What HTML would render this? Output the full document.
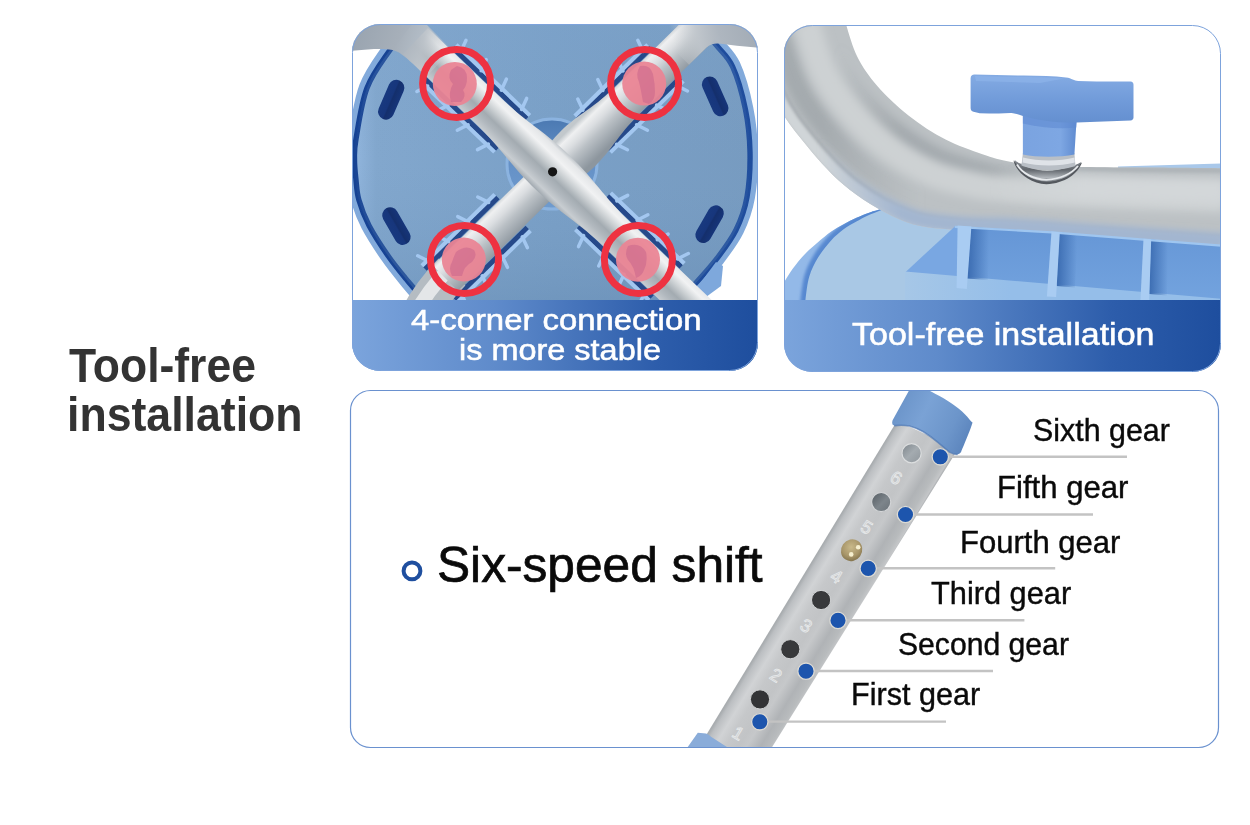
<!DOCTYPE html>
<html lang="en">
<head>
<meta charset="utf-8">
<title>Tool-free installation</title>
<style>
html,body{margin:0;padding:0;background:#fff;}
body{width:1250px;height:825px;position:relative;overflow:hidden;font-family:"Liberation Sans",sans-serif;}
#art{position:absolute;left:0;top:0;width:1250px;height:825px;display:block;}
.tx{position:absolute;white-space:nowrap;transform-origin:0 0;}
.w{color:#fff;-webkit-text-stroke:0.55px #fff;}
.k{color:#0a0a0a;-webkit-text-stroke:0.4px #0a0a0a;}
#t1{left:69.3px;top:342.1px;font-size:48px;line-height:48px;transform:scaleX(0.9261);font-weight:bold;color:#333;}
#t2{left:67.4px;top:391.3px;font-size:48px;line-height:48px;transform:scaleX(0.9300);font-weight:bold;color:#333;}
#c1a{left:411.2px;top:306.4px;font-size:29px;line-height:29px;transform:scaleX(1.1331);}
#c1b{left:459.1px;top:335.8px;font-size:29px;line-height:29px;transform:scaleX(1.1186);}
#c2{left:851.8px;top:317.7px;font-size:32px;line-height:32px;transform:scaleX(1.0628);}
#six{-webkit-text-stroke:0.7px #0a0a0a;left:437.4px;top:540.0px;font-size:49.3px;line-height:49.3px;transform:scaleX(1.0072);}
#g6{left:1032.5px;top:415.0px;font-size:30.5px;line-height:30.5px;transform:scaleX(0.9963);}
#g5{left:996.9px;top:472.1px;font-size:30.5px;line-height:30.5px;transform:scaleX(1.0200);}
#g4{left:960.0px;top:526.9px;font-size:30.5px;line-height:30.5px;transform:scaleX(1.0169);}
#g3{left:931.3px;top:577.5px;font-size:30.5px;line-height:30.5px;transform:scaleX(1.0080);}
#g2{left:898.0px;top:628.6px;font-size:30.5px;line-height:30.5px;transform:scaleX(0.9882);}
#g1{left:851.0px;top:679.2px;font-size:30.5px;line-height:30.5px;transform:scaleX(1.0024);}
</style>
</head>
<body>
<svg id="art" viewBox="0 0 1250 825" width="1250" height="825">
<defs>
  <clipPath id="cp1"><rect x="352" y="24" width="406" height="347" rx="28" ry="28"/></clipPath>
  <clipPath id="cp2"><rect x="784" y="25" width="437" height="347" rx="28" ry="28"/></clipPath>
  <clipPath id="cp3"><rect x="350.5" y="390.5" width="868" height="357" rx="20" ry="20"/></clipPath>
  <linearGradient id="capg" x1="0" y1="0" x2="1" y2="0">
    <stop offset="0" stop-color="#7ba4dc"/><stop offset="0.35" stop-color="#5f8bcb"/><stop offset="0.75" stop-color="#2d5dab"/><stop offset="1" stop-color="#1e4e9e"/>
  </linearGradient>
  <linearGradient id="tubeg" gradientUnits="userSpaceOnUse" x1="801.5" y1="580" x2="857.6" y2="614">
    <stop offset="0" stop-color="#a9adb0"/><stop offset="0.05" stop-color="#bcbfc2"/><stop offset="0.18" stop-color="#d1d3d5"/>
    <stop offset="0.32" stop-color="#c6c8ca"/><stop offset="0.5" stop-color="#c2c4c6"/><stop offset="0.6" stop-color="#c6c8ca"/>
    <stop offset="0.78" stop-color="#b0b3b6"/><stop offset="0.9" stop-color="#b8bbbd"/><stop offset="0.97" stop-color="#c4c6c8"/><stop offset="1" stop-color="#a8abae"/>
  </linearGradient>
  <linearGradient id="bcapg" gradientUnits="userSpaceOnUse" x1="897" y1="405" x2="968" y2="440">
    <stop offset="0" stop-color="#6b94c9"/><stop offset="0.35" stop-color="#7aa2d5"/><stop offset="0.75" stop-color="#6c95ca"/><stop offset="1" stop-color="#5c85bd"/>
  </linearGradient>
  <linearGradient id="hole6" x1="0" y1="0" x2="1" y2="1"><stop offset="0" stop-color="#7d858b"/><stop offset="0.5" stop-color="#a4abb0"/><stop offset="1" stop-color="#8f969c"/></linearGradient>
  <linearGradient id="hole5" x1="0" y1="0" x2="1" y2="1"><stop offset="0" stop-color="#555c62"/><stop offset="0.55" stop-color="#7d858b"/><stop offset="1" stop-color="#6a7278"/></linearGradient>
  <radialGradient id="brass" cx="0.4" cy="0.4" r="0.7">
    <stop offset="0" stop-color="#c9b98a"/><stop offset="0.6" stop-color="#a8966a"/><stop offset="1" stop-color="#7c6d47"/>
  </radialGradient>
  <!-- PANEL2 DEFS -->
<clipPath id="seatclip"><path d="M778.0,292.0 C779.1,290.2 782.0,285.3 784.5,281.4 C787.0,277.5 789.2,273.4 792.7,268.7 C796.2,264.0 801.2,257.9 805.5,253.4 C809.8,249.0 814.0,245.6 818.2,242.0 C822.4,238.4 826.7,234.8 830.9,231.8 C835.1,228.8 839.4,226.5 843.6,224.2 C847.9,221.9 852.1,219.7 856.4,217.8 C860.6,215.9 865.3,214.1 869.1,212.7 C872.9,211.3 872.5,211.6 879.3,209.5 C886.1,207.4 904.9,201.6 910.0,200.0 L1225,200 L1225,305 L778,305 Z"/></clipPath>
  <clipPath id="tubeclip"><path d="M845.3,22.0 C847.3,27.8 851.9,46.1 857.3,56.8 C862.7,67.5 868.9,76.4 877.5,86.2 C886.1,96.0 897.4,106.8 908.8,115.7 C920.1,124.6 933.3,133.2 945.6,139.6 C957.9,146.0 971.7,150.6 982.4,154.3 C993.1,158.0 999.6,159.8 1010.0,161.7 C1020.4,163.6 1033.0,164.6 1045.0,165.5 C1057.0,166.4 1064.5,166.6 1082.0,166.9 C1099.5,167.2 1126.2,167.4 1150.0,167.6 C1173.8,167.8 1212.5,168.2 1225.0,168.3 L1225.0,247.0 C1212.5,246.1 1174.5,243.3 1150.0,241.5 C1125.5,239.7 1096.3,237.4 1078.0,236.0 C1059.7,234.6 1053.3,233.8 1040.0,233.0 C1026.7,232.2 1011.8,231.5 998.0,231.0 C984.2,230.5 972.3,231.5 957.0,230.0 C941.7,228.5 923.8,228.7 906.0,222.0 C888.2,215.3 866.5,202.7 850.0,190.0 C833.5,177.3 819.8,161.7 807.0,146.0 C794.2,130.3 782.8,116.7 773.0,96.0 C763.2,75.3 752.2,34.3 748.0,22.0 Z"/></clipPath>
  <filter id="b3" filterUnits="userSpaceOnUse" x="300" y="0" width="950" height="420"><feGaussianBlur stdDeviation="3"/></filter>
  <filter id="b5" filterUnits="userSpaceOnUse" x="300" y="0" width="950" height="420"><feGaussianBlur stdDeviation="5"/></filter>
  <filter id="b2" filterUnits="userSpaceOnUse" x="300" y="0" width="950" height="420"><feGaussianBlur stdDeviation="1.6"/></filter>
  <linearGradient id="fadeDark" gradientUnits="userSpaceOnUse" x1="840" y1="0" x2="1070" y2="0"><stop offset="0" stop-color="#a3a9ad" stop-opacity="0"/><stop offset="0.26" stop-color="#a3a9ad"/><stop offset="0.62" stop-color="#a3a9ad"/><stop offset="1" stop-color="#a3a9ad" stop-opacity="0"/></linearGradient>
  <linearGradient id="fadeDarkA" gradientUnits="userSpaceOnUse" x1="820" y1="0" x2="920" y2="0"><stop offset="0" stop-color="#a4aaae"/><stop offset="1" stop-color="#a4aaae" stop-opacity="0"/></linearGradient>
  <linearGradient id="fadeLight" gradientUnits="userSpaceOnUse" x1="990" y1="0" x2="1080" y2="0"><stop offset="0" stop-color="#d3d7d9" stop-opacity="0"/><stop offset="1" stop-color="#d3d7d9"/></linearGradient>
  <linearGradient id="fadeEdge" gradientUnits="userSpaceOnUse" x1="1000" y1="0" x2="1090" y2="0"><stop offset="0" stop-color="#aeb4b8" stop-opacity="0"/><stop offset="1" stop-color="#aeb4b8"/></linearGradient>
  <linearGradient id="fadeBlue" gradientUnits="userSpaceOnUse" x1="820" y1="0" x2="900" y2="0"><stop offset="0" stop-color="#a3b6d0" stop-opacity="0"/><stop offset="1" stop-color="#a3b6d0"/></linearGradient>
  <linearGradient id="rimg" gradientUnits="userSpaceOnUse" x1="790" y1="250" x2="812" y2="268"><stop offset="0" stop-color="#9cc0ea"/><stop offset="0.6" stop-color="#7fabe0"/><stop offset="1" stop-color="#5d8fd3"/></linearGradient>
  <linearGradient id="washg" x1="0" y1="0" x2="0" y2="1"><stop offset="0" stop-color="#8a9097"/><stop offset="0.45" stop-color="#62676d"/><stop offset="0.8" stop-color="#aeb3b8"/><stop offset="1" stop-color="#70757b"/></linearGradient>
  <linearGradient id="ribsh1" gradientUnits="userSpaceOnUse" x1="969" y1="0" x2="989" y2="0"><stop offset="0" stop-color="#3e6fb4"/><stop offset="1" stop-color="#3e6fb4" stop-opacity="0"/></linearGradient>
  <linearGradient id="ribsh2" gradientUnits="userSpaceOnUse" x1="1058" y1="0" x2="1077" y2="0"><stop offset="0" stop-color="#3e6fb4"/><stop offset="1" stop-color="#3e6fb4" stop-opacity="0"/></linearGradient>
  <linearGradient id="ribsh3" gradientUnits="userSpaceOnUse" x1="1150" y1="0" x2="1168" y2="0"><stop offset="0" stop-color="#3e6fb4"/><stop offset="1" stop-color="#3e6fb4" stop-opacity="0"/></linearGradient>
  <linearGradient id="floorg" gradientUnits="userSpaceOnUse" x1="905" y1="0" x2="1010" y2="0"><stop offset="0" stop-color="#a6c7e7"/><stop offset="1" stop-color="#95bee9"/></linearGradient>
  <linearGradient id="knobg" x1="0" y1="0" x2="0" y2="1"><stop offset="0" stop-color="#84abe3"/><stop offset="0.5" stop-color="#729cda"/><stop offset="1" stop-color="#648fd0"/></linearGradient>
  <linearGradient id="stemg" x1="0" y1="0" x2="1" y2="0"><stop offset="0" stop-color="#7aa3e0"/><stop offset="0.7" stop-color="#7ea7e3"/><stop offset="1" stop-color="#5f8bd0"/></linearGradient>
  <linearGradient id="wallg" x1="0" y1="0" x2="0" y2="1"><stop offset="0" stop-color="#6596d6"/><stop offset="1" stop-color="#74a4df"/></linearGradient>
<!-- /PANEL2 DEFS -->
  <!-- PANEL1 DEFS -->
<linearGradient id="faceg" gradientUnits="userSpaceOnUse" x1="352" y1="0" x2="758" y2="0">
    <stop offset="0" stop-color="#93b7df"/><stop offset="0.06" stop-color="#82a7cd"/><stop offset="0.5" stop-color="#7aa0c7"/><stop offset="1" stop-color="#779bc0"/>
  </linearGradient>
  <linearGradient id="ringg" gradientUnits="userSpaceOnUse" x1="352" y1="0" x2="758" y2="0">
    <stop offset="0" stop-color="#164293"/><stop offset="0.5" stop-color="#1b4898"/><stop offset="1" stop-color="#1f4d9d"/>
  </linearGradient>
  <linearGradient id="t1g" gradientUnits="userSpaceOnUse" x1="0" y1="-24" x2="0" y2="24">
    <stop offset="0" stop-color="#bfc5ca"/><stop offset="0.08" stop-color="#e4e6e8"/><stop offset="0.24" stop-color="#f1f2f3"/><stop offset="0.42" stop-color="#c9ced1"/><stop offset="0.58" stop-color="#a3abb1"/><stop offset="0.72" stop-color="#b1b8be"/><stop offset="0.88" stop-color="#c8cdd1"/><stop offset="1" stop-color="#a1a9b0"/>
  </linearGradient>
  <linearGradient id="t1ge" gradientUnits="userSpaceOnUse" x1="0" y1="-18.5" x2="0" y2="18.5">
    <stop offset="0" stop-color="#bfc5ca"/><stop offset="0.08" stop-color="#e4e6e8"/><stop offset="0.24" stop-color="#f1f2f3"/><stop offset="0.42" stop-color="#c9ced1"/><stop offset="0.58" stop-color="#a3abb1"/><stop offset="0.72" stop-color="#b1b8be"/><stop offset="0.88" stop-color="#c8cdd1"/><stop offset="1" stop-color="#a1a9b0"/>
  </linearGradient>
  <linearGradient id="t2g" gradientUnits="userSpaceOnUse" x1="0" y1="-20" x2="0" y2="20">
    <stop offset="0" stop-color="#c2c8cc"/><stop offset="0.14" stop-color="#eff0f1"/><stop offset="0.35" stop-color="#dadde0"/><stop offset="0.58" stop-color="#bac0c5"/><stop offset="0.82" stop-color="#a0a8af"/><stop offset="1" stop-color="#8d969e"/>
  </linearGradient>
  <linearGradient id="bendg" gradientUnits="userSpaceOnUse" x1="352" y1="30" x2="448" y2="62">
    <stop offset="0" stop-color="#98a3af"/><stop offset="0.45" stop-color="#a6afb9"/><stop offset="0.7" stop-color="#b9c0c7" stop-opacity="0.9"/><stop offset="1" stop-color="#cfd3d7" stop-opacity="0"/>
  </linearGradient>
  <linearGradient id="bendg2" gradientUnits="userSpaceOnUse" x1="758" y1="30" x2="676" y2="52">
    <stop offset="0" stop-color="#a2abb5"/><stop offset="0.45" stop-color="#aeb6bf"/><stop offset="0.7" stop-color="#c0c6cc" stop-opacity="0.9"/><stop offset="1" stop-color="#d3d7da" stop-opacity="0"/>
  </linearGradient>
  <linearGradient id="facev" gradientUnits="userSpaceOnUse" x1="0" y1="24" x2="0" y2="300"><stop offset="0" stop-color="#7fa6ce" stop-opacity="0.25"/><stop offset="0.5" stop-color="#7aa0c7" stop-opacity="0"/><stop offset="1" stop-color="#5f85ad" stop-opacity="0.35"/></linearGradient>
  <linearGradient id="hubg" x1="0" y1="0" x2="0" y2="1"><stop offset="0" stop-color="#4b79b2"/><stop offset="0.45" stop-color="#6490c6"/><stop offset="1" stop-color="#6f9bce"/></linearGradient>
  <linearGradient id="slotg" x1="0" y1="0" x2="1" y2="0"><stop offset="0" stop-color="#18397f"/><stop offset="0.45" stop-color="#17367c"/><stop offset="0.55" stop-color="#142f6c"/><stop offset="1" stop-color="#16357a"/></linearGradient>
<!-- /PANEL1 DEFS -->
</defs>

<!-- ================= PANEL 1 ================= -->
<g clip-path="url(#cp1)">
  <rect x="352" y="24" width="406" height="347" fill="#86add7"/>
  <!-- PANEL1 ART -->
<rect x="352" y="24" width="406" height="280" fill="#ffffff"/>
  <!-- disc -->
  <path d="M500.0,-30.0 C492.0,-26.7 465.7,-17.3 452.0,-10.0 C438.3,-2.7 428.3,4.0 418.0,14.0 C407.7,24.0 398.5,37.7 390.0,50.0 C381.5,62.3 372.7,73.2 367.0,88.0 C361.3,102.8 358.1,127.0 356.0,139.0 C353.9,151.0 354.5,153.2 354.5,160.0 C354.5,166.8 355.3,173.3 356.0,180.0 C356.7,186.7 356.7,192.4 358.9,200.0 C361.1,207.6 364.1,216.2 369.0,225.5 C373.9,234.8 382.0,247.1 388.2,256.0 C394.4,264.9 400.4,272.1 406.0,278.9 C411.6,285.7 414.7,289.8 422.0,297.0 C429.3,304.2 438.7,314.5 450.0,322.0 C461.3,329.5 483.3,338.7 490.0,342.0 L640.0,335.0 C645.0,331.2 660.8,320.5 670.0,312.0 C679.2,303.5 687.2,292.9 695.0,284.0 C702.8,275.1 710.2,267.4 717.0,258.4 C723.8,249.4 731.0,240.2 736.0,230.0 C741.0,219.8 744.7,210.0 747.0,197.0 C749.3,184.0 750.3,166.6 750.0,152.0 C749.7,137.4 748.3,123.5 745.4,109.3 C742.5,95.1 737.6,77.4 732.6,66.6 C727.6,55.8 722.7,53.1 715.6,44.3 C708.5,35.5 700.9,23.4 690.0,14.0 C679.1,4.6 665.0,-4.7 650.0,-12.0 C635.0,-19.3 608.3,-27.0 600.0,-30.0 Z" fill="#82aadb" stroke="#82aadb" stroke-width="4" transform="translate(553,165) scale(1.03,1.035) translate(-553,-165)"/>
  <path d="M500.0,-30.0 C492.0,-26.7 465.7,-17.3 452.0,-10.0 C438.3,-2.7 428.3,4.0 418.0,14.0 C407.7,24.0 398.5,37.7 390.0,50.0 C381.5,62.3 372.7,73.2 367.0,88.0 C361.3,102.8 358.1,127.0 356.0,139.0 C353.9,151.0 354.5,153.2 354.5,160.0 C354.5,166.8 355.3,173.3 356.0,180.0 C356.7,186.7 356.7,192.4 358.9,200.0 C361.1,207.6 364.1,216.2 369.0,225.5 C373.9,234.8 382.0,247.1 388.2,256.0 C394.4,264.9 400.4,272.1 406.0,278.9 C411.6,285.7 414.7,289.8 422.0,297.0 C429.3,304.2 438.7,314.5 450.0,322.0 C461.3,329.5 483.3,338.7 490.0,342.0 L640.0,335.0 C645.0,331.2 660.8,320.5 670.0,312.0 C679.2,303.5 687.2,292.9 695.0,284.0 C702.8,275.1 710.2,267.4 717.0,258.4 C723.8,249.4 731.0,240.2 736.0,230.0 C741.0,219.8 744.7,210.0 747.0,197.0 C749.3,184.0 750.3,166.6 750.0,152.0 C749.7,137.4 748.3,123.5 745.4,109.3 C742.5,95.1 737.6,77.4 732.6,66.6 C727.6,55.8 722.7,53.1 715.6,44.3 C708.5,35.5 700.9,23.4 690.0,14.0 C679.1,4.6 665.0,-4.7 650.0,-12.0 C635.0,-19.3 608.3,-27.0 600.0,-30.0 Z" fill="url(#faceg)" stroke="url(#ringg)" stroke-width="5.4"/>
  <path d="M500.0,-30.0 C492.0,-26.7 465.7,-17.3 452.0,-10.0 C438.3,-2.7 428.3,4.0 418.0,14.0 C407.7,24.0 398.5,37.7 390.0,50.0 C381.5,62.3 372.7,73.2 367.0,88.0 C361.3,102.8 358.1,127.0 356.0,139.0 C353.9,151.0 354.5,153.2 354.5,160.0 C354.5,166.8 355.3,173.3 356.0,180.0 C356.7,186.7 356.7,192.4 358.9,200.0 C361.1,207.6 364.1,216.2 369.0,225.5 C373.9,234.8 382.0,247.1 388.2,256.0 C394.4,264.9 400.4,272.1 406.0,278.9 C411.6,285.7 414.7,289.8 422.0,297.0 C429.3,304.2 438.7,314.5 450.0,322.0 C461.3,329.5 483.3,338.7 490.0,342.0 L640.0,335.0 C645.0,331.2 660.8,320.5 670.0,312.0 C679.2,303.5 687.2,292.9 695.0,284.0 C702.8,275.1 710.2,267.4 717.0,258.4 C723.8,249.4 731.0,240.2 736.0,230.0 C741.0,219.8 744.7,210.0 747.0,197.0 C749.3,184.0 750.3,166.6 750.0,152.0 C749.7,137.4 748.3,123.5 745.4,109.3 C742.5,95.1 737.6,77.4 732.6,66.6 C727.6,55.8 722.7,53.1 715.6,44.3 C708.5,35.5 700.9,23.4 690.0,14.0 C679.1,4.6 665.0,-4.7 650.0,-12.0 C635.0,-19.3 608.3,-27.0 600.0,-30.0 Z" fill="url(#facev)"/>
  <!-- bottom-right foot -->
  <path d="M716,262 L723,266 L721,286 L706,297 L690,297 Z" fill="#7ea8dc"/>
  <!-- hub -->
  <circle cx="552" cy="164" r="45" fill="url(#hubg)" stroke="#8bb3e0" stroke-width="3"/>
  <!-- slots -->
  <g fill="url(#slotg)">
    <rect x="-8" y="-21" width="16" height="42" rx="8" transform="translate(391.2,99.7) rotate(23.3)"/>
    <rect x="-8" y="-21" width="16" height="42" rx="8" transform="translate(715.2,96.3) rotate(-24)"/>
    <rect x="-8" y="-20.5" width="16" height="41" rx="8" transform="translate(396.4,226.1) rotate(-30)"/>
    <rect x="-8" y="-20.5" width="16" height="41" rx="8" transform="translate(709.6,224.2) rotate(30)"/>
  </g>
  <!-- ribs -->
  <g transform="translate(552.6,172.5) rotate(43.8)">
      <line x1="56" y1="21" x2="158" y2="21" stroke="#26498a" stroke-width="5"/>
      <line x1="56" y1="-21" x2="158" y2="-21" stroke="#26498a" stroke-width="5"/>
      <line x1="-56" y1="21" x2="-158" y2="21" stroke="#26498a" stroke-width="5"/>
      <line x1="-56" y1="-21" x2="-158" y2="-21" stroke="#26498a" stroke-width="5"/>
      <line x1="56" y1="25.5" x2="158" y2="25.5" stroke="#a3c7f0" stroke-width="4"/>
      <line x1="56" y1="-25.5" x2="158" y2="-25.5" stroke="#a3c7f0" stroke-width="4"/>
      <line x1="-56" y1="25.5" x2="-158" y2="25.5" stroke="#a3c7f0" stroke-width="4"/>
      <line x1="-56" y1="-25.5" x2="-158" y2="-25.5" stroke="#a3c7f0" stroke-width="4"/>
      <g stroke="#a3c7f0" stroke-width="3.5" stroke-linecap="round"><line x1="66" y1="24" x2="70" y2="35.5"/>
      <line x1="94" y1="24" x2="98" y2="35.5"/>
      <line x1="122" y1="24" x2="126" y2="35.5"/>
      <line x1="150" y1="24" x2="154" y2="35.5"/>
      <line x1="66" y1="-24" x2="70" y2="-35.5"/>
      <line x1="94" y1="-24" x2="98" y2="-35.5"/>
      <line x1="122" y1="-24" x2="126" y2="-35.5"/>
      <line x1="150" y1="-24" x2="154" y2="-35.5"/>
      <line x1="-66" y1="24" x2="-70" y2="35.5"/>
      <line x1="-94" y1="24" x2="-98" y2="35.5"/>
      <line x1="-122" y1="24" x2="-126" y2="35.5"/>
      <line x1="-150" y1="24" x2="-154" y2="35.5"/>
      <line x1="-66" y1="-24" x2="-70" y2="-35.5"/>
      <line x1="-94" y1="-24" x2="-98" y2="-35.5"/>
      <line x1="-122" y1="-24" x2="-126" y2="-35.5"/>
      <line x1="-150" y1="-24" x2="-154" y2="-35.5"/></g>
  </g>
  <g transform="translate(552.6,173.4) rotate(-44.4)">
      <line x1="56" y1="21" x2="158" y2="21" stroke="#26498a" stroke-width="5"/>
      <line x1="56" y1="-21" x2="158" y2="-21" stroke="#26498a" stroke-width="5"/>
      <line x1="-56" y1="21" x2="-158" y2="21" stroke="#26498a" stroke-width="5"/>
      <line x1="-56" y1="-21" x2="-158" y2="-21" stroke="#26498a" stroke-width="5"/>
      <line x1="56" y1="25.5" x2="158" y2="25.5" stroke="#a3c7f0" stroke-width="4"/>
      <line x1="56" y1="-25.5" x2="158" y2="-25.5" stroke="#a3c7f0" stroke-width="4"/>
      <line x1="-56" y1="25.5" x2="-158" y2="25.5" stroke="#a3c7f0" stroke-width="4"/>
      <line x1="-56" y1="-25.5" x2="-158" y2="-25.5" stroke="#a3c7f0" stroke-width="4"/>
      <g stroke="#a3c7f0" stroke-width="3.5" stroke-linecap="round"><line x1="66" y1="24" x2="70" y2="35.5"/>
      <line x1="94" y1="24" x2="98" y2="35.5"/>
      <line x1="122" y1="24" x2="126" y2="35.5"/>
      <line x1="150" y1="24" x2="154" y2="35.5"/>
      <line x1="66" y1="-24" x2="70" y2="-35.5"/>
      <line x1="94" y1="-24" x2="98" y2="-35.5"/>
      <line x1="122" y1="-24" x2="126" y2="-35.5"/>
      <line x1="150" y1="-24" x2="154" y2="-35.5"/>
      <line x1="-66" y1="24" x2="-70" y2="35.5"/>
      <line x1="-94" y1="24" x2="-98" y2="35.5"/>
      <line x1="-122" y1="24" x2="-126" y2="35.5"/>
      <line x1="-150" y1="24" x2="-154" y2="35.5"/>
      <line x1="-66" y1="-24" x2="-70" y2="-35.5"/>
      <line x1="-94" y1="-24" x2="-98" y2="-35.5"/>
      <line x1="-122" y1="-24" x2="-126" y2="-35.5"/>
      <line x1="-150" y1="-24" x2="-154" y2="-35.5"/></g>
  </g>
  <!-- tube 2 (under) -->
  <!-- tr bend drawn after tube2 -->
  <path d="M452,272 Q432,292 418,318" fill="none" stroke="#b5bcc2" stroke-width="38"/>
  <path d="M448,270 Q428,290 414,316" fill="none" stroke="#e4e6e8" stroke-width="14"/>
  <g transform="translate(552.6,173.4) rotate(-44.4)">
    <path d="M-150,-17.8 L-20,-17.8 C5,-17.8 12,-24.5 35,-24.5 C60,-24.5 75,-17.8 110,-17.8 L245,-17.8 L245,17.8 L110,17.8 C75,17.8 60,24.5 35,24.5 C12,24.5 5,17.8 -20,17.8 L-150,17.8 Z" fill="url(#t2g)"/>
  </g>
  <path d="M676,10 L770,10 L770,49 L756.3,47.6 L736.9,45.7 L719,43.6 Q711.5,43 706.5,47.6 L689,64.7 L660,36 Z" fill="url(#bendg2)"/>
  <!-- tube 1 (over) -->
  <!-- bend drawn after tube1 -->
  <g transform="translate(552.6,172.5) rotate(43.8)">
    <path d="M-190,-18 L-92,-18 C-50.6,-18 -36.800000000000004,-24 0,-24 C36.800000000000004,-24 50.6,-18 92,-18 L240,-18 L240,18 L92,18 C50.6,18 36.800000000000004,24 0,24 C-36.800000000000004,24 -50.6,18 -92,18 L-190,18 Z" fill="url(#t1g)"/>
  </g>
  <path d="M340,10 L412,10 L452,50 L426,77 C414,64 405,56.5 399,52.5 C394,49.2 385,48.6 374,49.1 L340,51.5 Z" fill="url(#bendg)"/>
  <circle cx="552.6" cy="171.8" r="4.6" fill="#151515"/>
  <!-- highlight circles -->
  <g fill="#ea8595" fill-opacity="0.95">
    <circle cx="454.8" cy="83.9" r="22"/>
    <circle cx="644.2" cy="83.6" r="22"/>
    <circle cx="463.8" cy="259.5" r="22"/>
    <circle cx="638" cy="259.7" r="22"/>
  </g>
  <g fill="#c9668c" fill-opacity="0.55">
    <path d="M457,66 q10,2 10,12 q0,8 -4,12 q4,6 -2,12 l-10,0 q-3,-10 2,-18 q-6,-6 -2,-14 z"/>
    <path d="M640,66 q10,-2 13,8 q2,10 2,18 q0,8 -6,12 l-6,-2 q-2,-12 -4,-20 q-4,-8 1,-16 z"/>
    <path d="M456,252 q10,-8 18,-2 q4,6 -2,12 q-8,4 -10,14 l-10,0 q-4,-8 0,-14 q2,-6 4,-10 z"/>
    <path d="M628,246 q12,-4 18,6 q2,10 -2,18 q-2,6 -8,8 q-2,-12 -8,-18 q-4,-6 0,-14 z"/>
  </g>
  <g fill="none" stroke="#ee3241" stroke-width="7">
    <circle cx="456.6" cy="83.5" r="34"/>
    <circle cx="644.6" cy="83.4" r="34"/>
    <circle cx="464.5" cy="259.5" r="34"/>
    <circle cx="638.4" cy="259.5" r="34"/>
  </g>
<!-- /PANEL1 ART -->
  <rect x="352" y="300" width="406" height="72" fill="url(#capg)"/>
</g>

<rect id="b1" x="352.5" y="24.5" width="405" height="346" rx="28" ry="28" fill="none" stroke="#7da3dc" stroke-width="1"/>

<!-- ================= PANEL 2 ================= -->
<g clip-path="url(#cp2)">
  <rect x="784" y="25" width="437" height="347" fill="#ffffff"/>
  <!-- PANEL2 ART -->
<!-- seat -->
  <path d="M778.0,292.0 C779.1,290.2 782.0,285.3 784.5,281.4 C787.0,277.5 789.2,273.4 792.7,268.7 C796.2,264.0 801.2,257.9 805.5,253.4 C809.8,249.0 814.0,245.6 818.2,242.0 C822.4,238.4 826.7,234.8 830.9,231.8 C835.1,228.8 839.4,226.5 843.6,224.2 C847.9,221.9 852.1,219.7 856.4,217.8 C860.6,215.9 865.3,214.1 869.1,212.7 C872.9,211.3 872.5,211.6 879.3,209.5 C886.1,207.4 904.9,201.6 910.0,200.0 L1225,200 L1225,305 L778,305 Z" fill="#93b9e8"/>
  <g clip-path="url(#seatclip)"><path d="M805.0,310.0 C805.1,308.2 804.8,304.9 805.5,299.3 C806.2,293.7 807.2,283.4 809.3,276.4 C811.4,269.4 814.6,263.2 818.2,257.3 C821.8,251.4 826.7,245.4 830.9,240.7 C835.1,236.0 839.4,232.5 843.6,229.3 C847.9,226.1 852.2,224.0 856.4,221.6 C860.6,219.2 863.4,217.4 869.0,215.0 C874.6,212.6 886.5,208.3 890.0,207.0" fill="none" stroke="#5688d0" stroke-width="10" filter="url(#b2)"/></g>
  <path d="M805.0,310.0 C805.1,308.2 804.8,304.9 805.5,299.3 C806.2,293.7 807.2,283.4 809.3,276.4 C811.4,269.4 814.6,263.2 818.2,257.3 C821.8,251.4 826.7,245.4 830.9,240.7 C835.1,236.0 839.4,232.5 843.6,229.3 C847.9,226.1 852.2,224.0 856.4,221.6 C860.6,219.2 863.4,217.4 869.0,215.0 C874.6,212.6 886.5,208.3 890.0,207.0 L1225,207 L1225,310 Z" fill="#a9c8e5"/>
  <!-- strip behind tube at right -->
  <polygon points="1118,166.4 1225,163.5 1225,170 1118,168" fill="#a9c8ea"/>
  <!-- tube -->
  <path d="M845.3,22.0 C847.3,27.8 851.9,46.1 857.3,56.8 C862.7,67.5 868.9,76.4 877.5,86.2 C886.1,96.0 897.4,106.8 908.8,115.7 C920.1,124.6 933.3,133.2 945.6,139.6 C957.9,146.0 971.7,150.6 982.4,154.3 C993.1,158.0 999.6,159.8 1010.0,161.7 C1020.4,163.6 1033.0,164.6 1045.0,165.5 C1057.0,166.4 1064.5,166.6 1082.0,166.9 C1099.5,167.2 1126.2,167.4 1150.0,167.6 C1173.8,167.8 1212.5,168.2 1225.0,168.3 L1225.0,247.0 C1212.5,246.1 1174.5,243.3 1150.0,241.5 C1125.5,239.7 1096.3,237.4 1078.0,236.0 C1059.7,234.6 1053.3,233.8 1040.0,233.0 C1026.7,232.2 1011.8,231.5 998.0,231.0 C984.2,230.5 972.3,231.5 957.0,230.0 C941.7,228.5 923.8,228.7 906.0,222.0 C888.2,215.3 866.5,202.7 850.0,190.0 C833.5,177.3 819.8,161.7 807.0,146.0 C794.2,130.3 782.8,116.7 773.0,96.0 C763.2,75.3 752.2,34.3 748.0,22.0 Z" fill="#bcc1c4"/>
  <g clip-path="url(#tubeclip)" fill="none">
    <path d="M823.9,22.0 C826.4,29.2 832.4,52.5 838.8,65.4 C845.1,78.3 852.5,88.3 862.0,99.4 C871.5,110.5 883.4,122.3 895.9,132.0 C908.3,141.8 923.4,151.2 936.9,157.7 C950.4,164.2 965.1,167.8 976.8,171.0 C988.6,174.2 996.2,175.4 1007.4,176.9 C1018.5,178.5 1031.6,179.5 1043.9,180.3 C1056.2,181.2 1063.4,181.5 1081.1,182.1 C1098.8,182.7 1126.0,183.3 1150.0,183.9 C1174.0,184.4 1212.5,185.3 1225.0,185.6" stroke="url(#fadeDark)" stroke-width="20" filter="url(#b5)"/>
    <path d="M775.2,22.0 C778.8,32.5 788.0,67.1 796.6,85.0 C805.2,102.9 815.1,115.2 826.7,129.3 C838.4,143.3 851.4,157.6 866.5,169.2 C881.5,180.8 900.8,192.3 917.1,198.9 C933.4,205.5 950.1,206.7 964.1,208.8 C978.2,210.9 988.5,210.7 1001.4,211.6 C1014.2,212.5 1028.4,213.3 1041.4,214.1 C1054.4,214.9 1061.0,215.5 1079.1,216.7 C1097.2,217.8 1125.7,219.4 1150.0,220.8 C1174.3,222.2 1212.5,224.3 1225.0,225.0" stroke="url(#fadeDarkA)" stroke-width="22" filter="url(#b5)"/>
    <path d="M806.4,22.0 C809.2,30.4 816.4,57.8 823.6,72.5 C830.7,87.2 839.0,98.0 849.3,110.1 C859.6,122.3 871.9,135.0 885.3,145.4 C898.7,155.8 915.3,166.0 929.8,172.6 C944.3,179.1 959.7,181.8 972.2,184.6 C984.8,187.4 993.4,188.1 1005.2,189.4 C1017.0,190.7 1030.5,191.6 1043.0,192.5 C1055.5,193.4 1062.6,193.8 1080.4,194.5 C1098.2,195.3 1125.9,196.3 1150.0,197.2 C1174.1,198.0 1212.5,199.3 1225.0,199.8" stroke="#cdd1d3" stroke-width="26" filter="url(#b5)"/>
    <path d="M760.2,22.0 C764.1,33.5 774.3,71.7 783.5,91.1 C792.8,110.5 803.5,123.6 815.8,138.5 C828.1,153.5 841.5,168.5 857.4,180.7 C873.2,192.9 893.8,205.1 911.0,211.7 C928.1,218.3 945.4,218.8 960.2,220.5 C974.9,222.3 986.1,221.7 999.5,222.3 C1012.9,223.0 1027.5,223.7 1040.6,224.6 C1053.8,225.4 1060.3,226.1 1078.5,227.4 C1096.7,228.6 1125.6,230.6 1150.0,232.3 C1174.4,233.9 1212.5,236.3 1225.0,237.2" stroke="#a3a9ae" stroke-width="2.5" filter="url(#b2)"/>
    <path d="M752.9,22.0 C756.9,34.0 767.6,73.9 777.2,94.0 C786.8,114.2 797.9,127.6 810.5,143.0 C823.1,158.4 836.7,173.8 852.9,186.3 C869.2,198.8 890.4,211.2 908.0,217.9 C925.5,224.5 943.2,224.6 958.3,226.2 C973.4,227.8 984.9,227.0 998.6,227.5 C1012.3,228.1 1027.0,228.8 1040.2,229.6 C1053.5,230.5 1059.9,231.2 1078.2,232.5 C1096.5,233.9 1125.5,236.1 1150.0,237.8 C1174.5,239.6 1212.5,242.2 1225.0,243.1" stroke="#d0d5d8" stroke-width="10" filter="url(#b2)"/>
    <!-- horizontal part adjustments -->
    <path d="M1000,184 C1060,188 1150,190 1225,191" stroke="url(#fadeLight)" stroke-width="24" filter="url(#b5)"/>
    <path d="M1010,165 C1060,169 1150,170 1225,170.5" stroke="url(#fadeEdge)" stroke-width="5" filter="url(#b2)"/>
    <path d="M754.8,22.0 C758.8,33.9 769.4,73.3 778.9,93.3 C788.4,113.2 799.4,126.6 811.9,141.8 C824.5,157.1 838.0,172.4 854.1,184.8 C870.3,197.2 891.3,209.6 908.8,216.2 C926.2,222.9 943.8,223.0 958.8,224.7 C973.8,226.4 985.2,225.6 998.8,226.1 C1012.4,226.7 1027.1,227.4 1040.3,228.3 C1053.6,229.1 1060.0,229.8 1078.3,231.2 C1096.6,232.5 1125.5,234.6 1150.0,236.3 C1174.5,238.0 1212.5,240.6 1225.0,241.5" stroke="url(#fadeBlue)" stroke-width="17" filter="url(#b3)"/>
  </g>
  <!-- wall + gusset + floor -->
  <polygon points="905.1,272.4 954.8,226.4 972,227 972,279 " fill="#79a7e2"/>
  <polygon points="971,227.2 1051.5,231.9 1143.5,239.2 1225,245.5 1225,305 905,305 905.1,272.4 971,278" fill="url(#wallg)"/>
  <polygon points="905,271.5 1225,299 1225,305 905,305" fill="url(#floorg)"/>
  <!-- rib shadows -->
  <polygon points="971,227 990,228.3 988,280 967,278.5" fill="url(#ribsh1)"/>
  <polygon points="1059.5,232.5 1078,234 1075,287.5 1056.5,286" fill="url(#ribsh2)"/>
  <polygon points="1151,239.5 1169,241 1167,295.5 1149.2,294" fill="url(#ribsh3)"/>
  <path d="M954.8,226.9 L1051.5,232.4 L1143.5,239.7 L1225,246" fill="none" stroke="#9fc6f0" stroke-width="2.2"/>
  <!-- ribs -->
  <polygon points="957.6,225.4 971.4,226.4 966.8,288.9 956.6,288" fill="#a9ccf2"/>
  <polygon points="1051.5,231.5 1059.8,232.3 1056.1,297 1046.9,296.4" fill="#a9ccf2"/>
  <polygon points="1143.5,238.8 1151.2,239.5 1149,305 1140.2,305" fill="#a9ccf2"/>
  <!-- washer -->
  <path d="M1013.5,160.5 C1016,171.5 1029,183.5 1046.4,184.2 C1065,183.5 1078,173.5 1082,162.5 C1076,166 1062,171 1047,171.3 C1033,171 1020,166.5 1013.5,160.5 Z" fill="#54585e"/>
  <path d="M1014.5,159.7 C1017,170 1030,181 1046.4,182 C1064,181 1077,172 1081.2,162 C1075,166 1062,170.5 1047,171 C1034,170.5 1021,166 1014.5,159.7 Z" fill="url(#washg)"/>
  <path d="M1017,164.5 C1022,173.5 1034,179.3 1046.4,179.8 C1060,179.3 1072,173.5 1078,166" fill="none" stroke="#e6e9ec" stroke-width="1.8"/>
  <path d="M1022.9,153 L1074.4,153 L1075.5,166 C1062,171 1034,171 1021.5,165.5 Z" fill="#b9bfc6"/>
  <path d="M1023,157.5 C1038,161.5 1060,161.5 1074.6,157.5 L1074.8,162.5 C1060,166.5 1038,166.5 1022.6,162.5 Z" fill="#dfe3e8"/>
  <!-- knob stem -->
  <path d="M1022.9,112 L1076.7,118 L1074.4,154.6 C1060,157.6 1037,157.6 1022.9,154.6 Z" fill="url(#stemg)"/>
  <path d="M1022.9,116 L1076.7,121 L1076.3,127.5 C1060,129.5 1040,127.5 1022.9,123.5 Z" fill="#5f8bd2" opacity="0.6"/>
  <!-- knob head -->
  <path d="M974.5,74.6 L1023.6,75.6 C1040,75.9 1054,76.2 1066,77.4 C1072,78.2 1074,80.6 1078.2,80.9 L1096.4,81.4 L1130.5,81.4 Q1133.5,81.6 1133.5,84.7 L1133.5,117.5 Q1133.3,120.3 1130.5,120.4 L1076.7,122.6 C1058,123 1040,121 1022.9,116 C1019,114.6 1016,113.6 1013,113.2 C1008,112.9 1003,113.6 997.9,113.5 C992,113.4 986,113.4 979.7,113.2 L973.5,111.8 Q970.6,111 970.6,108 L970.6,78.3 Q970.8,74.6 974.5,74.6 Z" fill="url(#knobg)"/>
  <path d="M975,76 L1023.6,77 C1040,77.3 1054,77.6 1064,78.6 L1040,83 L976,81 Z" fill="#8db3ea" opacity="0.7"/>
<!-- /PANEL2 ART -->
  <rect x="784" y="300" width="437" height="73" fill="url(#capg)"/>
</g>
<rect x="784.5" y="25.5" width="436" height="346" rx="28" ry="28" fill="none" stroke="#7da3dc" stroke-width="1"/>

<!-- ================= PANEL 3 ================= -->
<g clip-path="url(#cp3)">
  <!-- tube -->
  <polygon points="897,421 958,449 771.5,748 698.3,748" fill="url(#tubeg)"/>
  <!-- bottom cap bit -->
  <path d="M697.8,732.7 L706,733.6 Q709,734.5 711,736.8 L728.5,748 L687,748 Z" fill="#8aacd9"/>
  <!-- top cap -->
  <path d="M911.5,386 L892.6,420.3 Q891.2,425 894.2,425.6 Q903,424.6 909.5,426 Q917,428 923.3,431.8 Q931,436.5 937.9,442.4 Q944,447.5 949.5,452.1 Q954,454.6 957.5,454.4 Q960,454 961.1,452 C962.9,447.6 970.0,430.6 971.6,425.5 C973.2,420.4 972.4,423.5 970.8,421.1 C969.2,418.8 966.0,414.8 962.1,411.4 C958.2,408.0 952.5,403.9 947.5,400.7 C942.5,397.5 936.4,394.4 932.0,392.0 C927.6,389.6 922.8,387.4 921.0,386.5 Z" fill="url(#bcapg)"/>
  <path d="M894.2,425.6 Q903,424.6 909.5,426 Q917,428 923.3,431.8 Q931,436.5 937.9,442.4 Q944,447.5 949.5,452.1 Q954,454.6 957.5,454.4" fill="none" stroke="#4f78b3" stroke-width="1.6" opacity="0.7"/>
  <!-- engraved digits -->
  <g fill="#c9cccf" stroke="#e9ebec" stroke-width="0.75" font-family="Liberation Sans, sans-serif" font-size="18">
    <text transform="translate(896.5,477.5) rotate(31)" y="6.5" text-anchor="middle">6</text>
    <text transform="translate(867,527) rotate(31)" y="6.5" text-anchor="middle">5</text>
    <text transform="translate(836.7,576.3) rotate(31)" y="6.5" text-anchor="middle">4</text>
    <text transform="translate(806.4,625.6) rotate(31)" y="6.5" text-anchor="middle">3</text>
    <text transform="translate(776.1,674.9) rotate(31)" y="6.5" text-anchor="middle">2</text>
    <text transform="translate(738.5,733) rotate(31)" y="6.5" text-anchor="middle">1</text>
  </g>
  <!-- holes -->
  <circle cx="911.6" cy="453.2" r="9.6" fill="url(#hole6)" stroke="#dcdedf" stroke-width="1.2"/>
  <circle cx="881.2" cy="502.1" r="9.6" fill="url(#hole5)" stroke="#d3d5d7" stroke-width="1.2"/>
  <ellipse cx="851.6" cy="550.2" rx="10.4" ry="11.2" transform="rotate(35 851.6 550.2)" fill="url(#brass)"/>
  <circle cx="858.2" cy="547.3" r="2.3" fill="#f6efcf"/>
  <circle cx="851.2" cy="554.4" r="2.3" fill="#f6efcf"/>
  <circle cx="821.1" cy="600" r="9.6" fill="#38393b" stroke="#d2d4d5" stroke-width="1"/>
  <circle cx="790.3" cy="649.2" r="9.6" fill="#38393b" stroke="#d2d4d5" stroke-width="1"/>
  <circle cx="760" cy="699.4" r="9.6" fill="#333436" stroke="#d2d4d5" stroke-width="1"/>
  <!-- leader lines -->
  <g stroke="#c3c3c3" stroke-width="2.4">
    <line x1="940.3" y1="456.8" x2="1127" y2="456.8"/>
    <line x1="905.5" y1="514.5" x2="1093" y2="514.5"/>
    <line x1="868.2" y1="568.2" x2="1055.2" y2="568.2"/>
    <line x1="838" y1="620.3" x2="1024.4" y2="620.3"/>
    <line x1="806" y1="671" x2="993" y2="671"/>
    <line x1="759.8" y1="721.6" x2="946" y2="721.6"/>
  </g>
  <g fill="#1d55ad" stroke="#dcdad4" stroke-width="1.3">
    <circle cx="940.3" cy="456.8" r="8.2"/>
    <circle cx="905.5" cy="514.5" r="8.2"/>
    <circle cx="868.2" cy="568.4" r="8.2"/>
    <circle cx="838" cy="620.4" r="8.2"/>
    <circle cx="806" cy="671.2" r="8.2"/>
    <circle cx="759.8" cy="721.8" r="8.2"/>
  </g>
  <!-- bullet -->
  <circle cx="412" cy="570.9" r="8.4" fill="none" stroke="#1f4f9f" stroke-width="4"/>
</g>
<rect x="350.5" y="390.5" width="868" height="357" rx="20" ry="20" fill="none" stroke="#6a91cf" stroke-width="1.2"/>
</svg>

<div class="tx" id="t1">Tool-free</div>
<div class="tx" id="t2">installation</div>
<div class="tx w" id="c1a">4-corner connection</div>
<div class="tx w" id="c1b">is more stable</div>
<div class="tx w" id="c2">Tool-free installation</div>
<div class="tx k" id="six">Six-speed shift</div>
<div class="tx k" id="g6">Sixth gear</div>
<div class="tx k" id="g5">Fifth gear</div>
<div class="tx k" id="g4">Fourth gear</div>
<div class="tx k" id="g3">Third gear</div>
<div class="tx k" id="g2">Second gear</div>
<div class="tx k" id="g1">First gear</div>
</body>
</html>
